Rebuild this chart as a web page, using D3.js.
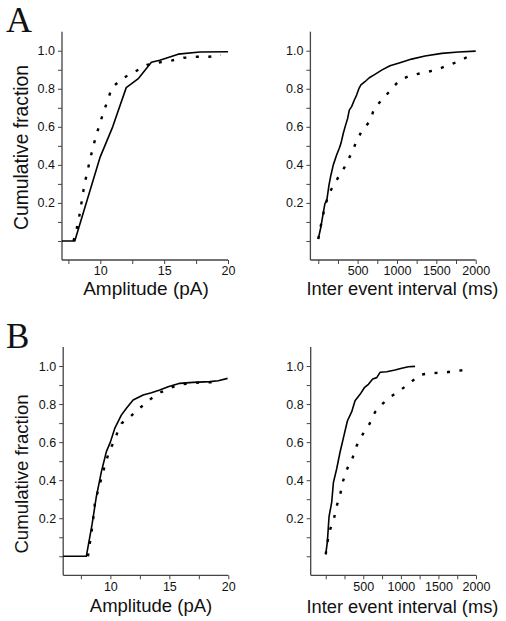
<!DOCTYPE html>
<html>
<head>
<meta charset="utf-8">
<script src="https://cdn.jsdelivr.net/npm/d3@7"></script>
<style>
  html, body { margin: 0; padding: 0; background: #fff; }
  svg { display: block; }
  text { fill: #111; }
</style>
</head>
<body>
<svg id="chart" width="506" height="621"></svg>
<script>
// ---------- DATA ----------
// Panel A, amplitude (pA) vs cumulative fraction
const ampA_solid = [[7,0],[8.0,0],[9.97,0.438],[10.97,0.60],[12.03,0.806],[13.0,0.855],[14.0,0.939],[14.66,0.95],[16.1,0.982],[17.8,0.993],[20,0.995]];
const ampA_dotted = [[7.9,0.0],[8.08,0.044],[8.29,0.105],[8.45,0.168],[8.6,0.233],[8.76,0.298],[8.97,0.359],[9.18,0.424],[9.42,0.489],[9.66,0.552],[9.95,0.613],[10.26,0.68],[10.6,0.742],[10.9,0.806],[11.76,0.855],[12.74,0.891],[13.66,0.926],[14.66,0.939],[15.63,0.949],[16.55,0.963],[17.55,0.968],[18.5,0.968],[19.45,0.977]];
// Panel A, inter event interval (ms)
const iviA_solid = [[0,0.0105],[34,0.075],[64,0.149],[85,0.198],[106,0.207],[136,0.294],[161,0.347],[191,0.40],[233,0.452],[267,0.487],[288,0.513],[318,0.566],[347,0.609],[373,0.644],[394,0.688],[424,0.706],[458,0.741],[487,0.767],[517,0.802],[542,0.82],[593,0.837],[648,0.858],[720,0.876],[805,0.898],[911,0.921],[1038,0.937],[1186,0.956],[1356,0.972],[1568,0.986],[1780,0.993],[2000,0.998]];
const iviA_dotted = [[0,0.0105],[21,0.058],[64,0.142],[93,0.198],[161,0.268],[246,0.329],[339,0.391],[411,0.452],[475,0.513],[551,0.578],[661,0.632],[708,0.695],[813,0.744],[924,0.795],[1034,0.846],[1174,0.870],[1330,0.884],[1491,0.898],[1644,0.923],[1771,0.942],[1915,0.972]];
// Panel B, amplitude (pA)
const ampB_solid = [[6,0],[7.96,0],[8.44,0.165],[8.81,0.313],[9.24,0.445],[9.66,0.55],[10.0,0.60],[10.37,0.672],[10.93,0.742],[11.36,0.778],[11.93,0.821],[12.78,0.848],[13.48,0.86],[14.19,0.874],[14.9,0.891],[15.89,0.909],[17.0,0.914],[18.44,0.918],[19.15,0.923],[19.94,0.935]];
const ampB_dotted = [[8.1,0.0],[8.5,0.17],[8.7,0.287],[9.15,0.389],[9.5,0.47],[9.89,0.55],[10.23,0.594],[10.57,0.646],[10.96,0.699],[11.78,0.739],[12.63,0.786],[13.48,0.83],[14.28,0.862],[15.13,0.886],[15.95,0.904],[16.83,0.909],[17.68,0.914],[18.53,0.914],[19.38,0.918]];
// Panel B, inter event interval (ms)
const iviB_solid = [[0,0.0105],[22,0.077],[44,0.208],[80,0.285],[102,0.387],[146,0.46],[191,0.548],[244,0.637],[288,0.711],[346,0.76],[390,0.818],[457,0.851],[514,0.886],[568,0.904],[625,0.932],[679,0.939],[723,0.967],[812,0.97],[922,0.979],[1011,0.988],[1100,0.996],[1189,0.998]];
const iviB_dotted = [[0,0.0105],[22,0.074],[58,0.14],[111,0.2],[146,0.264],[195,0.329],[226,0.39],[279,0.454],[355,0.515],[412,0.581],[492,0.641],[581,0.694],[656,0.758],[758,0.802],[878,0.842],[1007,0.877],[1135,0.916],[1255,0.954],[1410,0.963],[1570,0.965],[1734,0.974],[1898,0.981]];

// Tick definitions
const yTicks = [0,0.1,0.2,0.3,0.4,0.5,0.6,0.7,0.8,0.9,1.0];
const yTickLabels = [0.2,0.4,0.6,0.8,1.0];
const ampTicks = [7.5,10,12.5,15,17.5,20];
const ampTickLabels = [10,15,20];
const iviTicks = [0,250,500,750,1000,1250,1500,1750,2000];
const iviTickLabels = [500,1000,1500,2000];

const panelLetters = ["A","B"];
const xTitles = ["Amplitude (pA)","Inter event interval (ms)"];
const yTitle = "Cumulative fraction";

// ---------- DRAWING ----------
const SANS = "'Liberation Sans', Arial, Helvetica, sans-serif";
const SERIF = "'Liberation Serif', 'Times New Roman', serif";
const svg = d3.select("#chart");

const panels = [
  {xd:[7,20],   xr:[62,228],     yr:[260,31.7],  xt:ampTicks, xl:ampTickLabels, solid:ampA_solid, dotted:ampA_dotted},
  {xd:[-100,2000], xr:[310.4,475.7], yr:[260,31.7], xt:iviTicks, xl:iviTickLabels, solid:iviA_solid, dotted:iviA_dotted},
  {xd:[6,20],   xr:[63.2,228.3],  yr:[575.3,347], xt:ampTicks, xl:ampTickLabels, solid:ampB_solid, dotted:ampB_dotted},
  {xd:[-200,2000], xr:[310.7,476], yr:[575.3,347], xt:iviTicks, xl:iviTickLabels, solid:iviB_solid, dotted:iviB_dotted}
];

const fmtY = d3.format(".1f");

panels.forEach(p => {
  const x = d3.scaleLinear().domain(p.xd).range(p.xr);
  const y = d3.scaleLinear().domain([-0.1,1.1]).range(p.yr);
  const g = svg.append("g");

  const xAxis = d3.axisBottom(x).tickValues(p.xt).tickSize(4).tickPadding(3)
    .tickFormat(d => p.xl.includes(d) ? String(d) : "");
  const yAxis = d3.axisLeft(y).tickValues(yTicks).tickSize(4).tickPadding(3)
    .tickFormat(d => yTickLabels.some(v => Math.abs(v - d) < 1e-9) ? fmtY(d) : "");

  const gx = g.append("g").attr("transform", `translate(0,${p.yr[0]})`).call(xAxis);
  const gy = g.append("g").attr("transform", `translate(${p.xr[0]},0)`).call(yAxis);
  [gx, gy].forEach(a => {
    a.attr("font-family", null).attr("font-size", null);
    a.select(".domain").attr("stroke", "#444").attr("stroke-width", 1.3);
    a.selectAll(".tick line").attr("stroke", "#444").attr("stroke-width", 1);
    a.selectAll(".tick text").style("font-size", "12.5px").style("fill", "#111")
      .style("font-family", SANS);
  });
  gx.selectAll(".tick text").attr("dy", null).attr("y", 15.3);
  gx.select(".domain").attr("d", `M${p.xr[0]},0H${p.xr[1]}`);
  gy.select(".domain").attr("d", `M0,${p.yr[0]}V${p.yr[1]}`);

  const line = d3.line().x(d => x(d[0])).y(d => y(d[1]));
  g.append("path").datum(p.solid).attr("d", line)
    .attr("fill", "none").attr("stroke", "#000").attr("stroke-width", 1.6)
    .attr("stroke-linejoin", "round");
  g.append("path").datum(p.dotted).attr("d", line)
    .attr("fill", "none").attr("stroke", "#000").attr("stroke-width", 2.4)
    .attr("stroke-dasharray", "3,9.5");
});

// Panel letters
svg.append("text").text(panelLetters[0]).attr("x", 6).attr("y", 31.5)
  .style("font-family", SERIF).style("font-size", "36px");
svg.append("text").text(panelLetters[1]).attr("x", 6).attr("y", 348)
  .style("font-family", SERIF).style("font-size", "35px");

// Axis titles
[[146,294.5,19],[151,611.5,18.5]].forEach(([cx,by,fs]) => {
  svg.append("text").text(xTitles[0]).attr("x", cx).attr("y", by)
    .attr("text-anchor","middle").style("font-family", SANS).style("font-size", fs + "px");
});
[[402.4,294.5],[402.4,612.5]].forEach(([cx,by]) => {
  svg.append("text").text(xTitles[1]).attr("x", cx).attr("y", by)
    .attr("text-anchor","middle").style("font-family", SANS).style("font-size", "18.3px");
});
[[28,147.5,19.3],[28,474,18.6]].forEach(([bx,cy,fs]) => {
  svg.append("text").text(yTitle)
    .attr("transform", `translate(${bx},${cy}) rotate(-90)`)
    .attr("text-anchor","middle").style("font-family", SANS).style("font-size", fs + "px");
});
</script>
</body>
</html>
